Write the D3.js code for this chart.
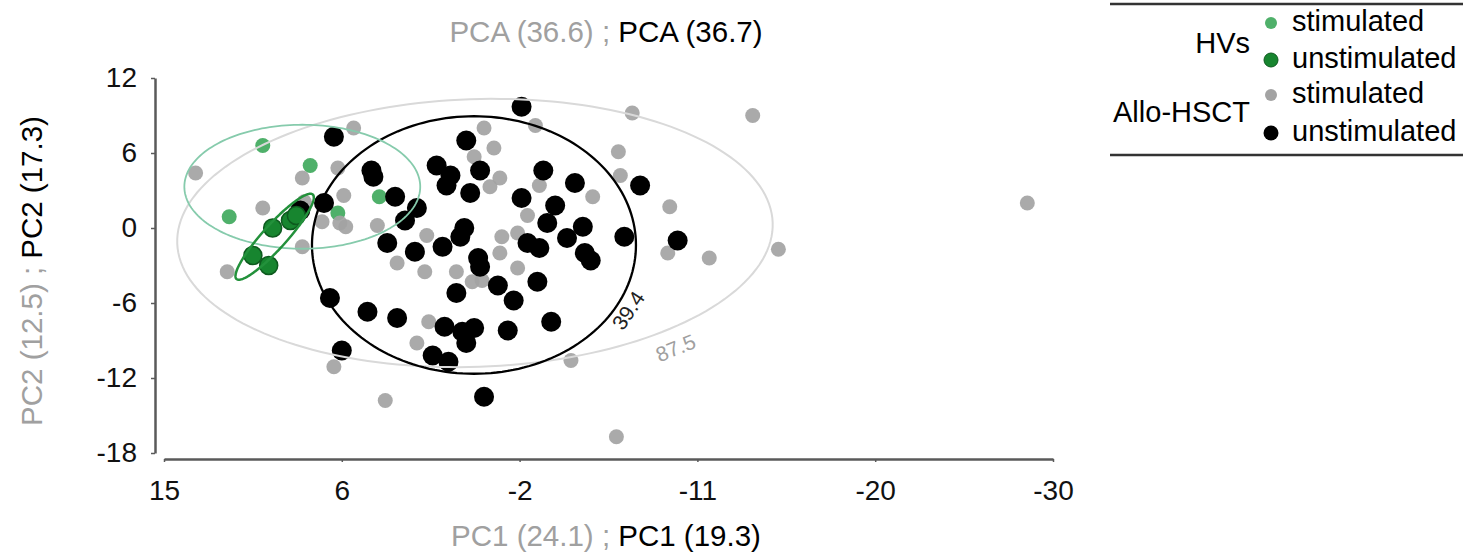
<!DOCTYPE html>
<html>
<head>
<meta charset="utf-8">
<script src="https://cdn.jsdelivr.net/npm/d3@7"></script>
<style>
  body { margin: 0; background: #fff; }
  svg { font-family: "Liberation Sans", Arial, sans-serif; }
</style>
</head>
<body>
<div id="chart"></div>
<script>
// HVs, stimulated
const hvStim = [[10.0, 6.6], [7.6, 5.0], [11.7, 0.9], [4.1, 2.5], [6.2, 1.2]];
// HVs, unstimulated
const hvUnstim = [[10.5, -2.2], [9.7, -3.0], [9.5, 0.0], [8.6, 0.6], [8.3, 1.0]];
// Allo-HSCT, stimulated
const alloStim = [
  [13.4, 4.4], [10.0, 1.6], [8.0, 4.0], [6.2, 4.8], [5.4, 8.0], [5.9, 2.6], [7.0, 0.5],
  [5.8, 0.1], [8.0, -1.5], [11.8, -3.5], [4.2, 0.2], [3.2, -2.8], [1.8, -3.5], [1.7, -0.6],
  [-1.2, 8.0], [-1.7, 6.4], [-0.7, 5.7], [-3.8, 8.2], [-8.7, 9.2], [-8.0, 6.1], [-8.1, 4.2],
  [-6.7, 2.5], [-2.0, 4.0], [-1.5, 3.3], [-4.0, 3.4], [-3.4, 1.0], [-2.9, -0.4], [-2.1, -0.7],
  [-2.0, -2.0], [0.2, -3.5], [-0.6, -4.3], [-1.1, -4.2], [-2.9, -3.2], [-10.6, 1.7],
  [-10.5, -2.0], [-12.6, -2.4], [-14.8, 9.0], [-16.1, -1.7], [-28.7, 2.0], [1.6, -7.5],
  [2.2, -9.2], [6.4, -11.1], [-5.6, -10.6], [3.8, -13.8], [-7.9, -16.7], [7.9, 2.1], [6.1, 0.4]
];
// Allo-HSCT, unstimulated
const alloUnstim = [
  [-3.1, 9.7], [6.4, 7.3], [-0.3, 7.0], [4.5, 4.6], [4.4, 4.1], [1.2, 5.0], [0.5, 4.2],
  [0.7, 3.4], [-1.0, 4.6], [-0.5, 2.8], [-4.2, 4.6], [-5.8, 3.6], [-9.1, 3.4], [3.3, 2.5],
  [2.2, 1.6], [2.8, 0.6], [6.9, 2.0], [-3.1, 2.4], [-4.8, 1.8], [-4.4, 0.4], [-0.2, 0.0],
  [0.0, -0.7], [-6.2, 0.1], [-5.4, -0.8], [-3.4, -1.2], [-4.0, -1.6], [-6.3, -2.0],
  [-6.6, -2.6], [-8.3, -0.7], [3.7, -1.2], [2.3, -1.9], [0.9, -1.5], [-0.9, -2.4],
  [-1.0, -3.1], [-11.0, -1.0], [6.6, -5.6], [4.7, -6.7], [3.2, -7.2], [0.2, -5.2],
  [-1.9, -4.6], [-2.7, -5.8], [-3.9, -4.3], [0.8, -7.9], [-0.1, -8.3], [-0.7, -8.0],
  [-0.3, -9.2], [1.4, -10.2], [0.6, -10.7], [-2.4, -8.2], [-4.6, -7.5], [6.0, -9.8],
  [-1.2, -13.5], [8.1, 1.4]
];

// confidence ellipses: centre and two semi-axis vectors, in data units
const ellipseStim = { c: [-0.74, -0.4], a: [-15.07, 0.83], b: [0.24, 10.7] };
const ellipseUnstim = { c: [-0.69, -1.36], a: [-8.2, 0], b: [0, 10.3] };
const ellipseHvStim = { c: [8.0, 3.3], a: [-5.97, 0], b: [0, 4.96] };
const ellipseHvUnstim = { c: [9.4, -0.7], a: [-1.93, 3.38], b: [-0.45, -0.64] };
const ellipseLabels = [{ text: '87.5', at: [-10.9, -9.6] }, { text: '39.4', at: [-8.5, -6.6] }];

const xTickValues = [15, 6, -3, -12, -21, -30];
const xTickLabels = ['15', '6', '-2', '-11', '-20', '-30'];
const yTickValues = [12, 6, 0, -6, -12, -18];

const legendGroups = ['HVs', 'Allo-HSCT'];
const legendItems = ['stimulated', 'unstimulated', 'stimulated', 'unstimulated'];

const width = 1463;
const height = 555;
const gray = '#a0a0a0';

const svg = d3.select('#chart').append('svg')
  .attr('width', width)
  .attr('height', height);

const x = d3.scaleLinear().domain([15, -30]).range([164, 1053]);
const y = d3.scaleLinear().domain([-18, 12]).range([453, 78]);

// axes
const yAxis = d3.axisLeft(y).tickValues(yTickValues).tickFormat(d => String(d))
  .tickSize(4).tickSizeOuter(0).tickPadding(14);
const gy = svg.append('g').attr('transform', 'translate(155,0)').call(yAxis);

const xAxis = d3.axisBottom(x).tickValues(xTickValues)
  .tickFormat((d, i) => xTickLabels[i]).tickSize(3).tickSizeOuter(0).tickPadding(18);
const gx = svg.append('g').attr('transform', 'translate(0,459)').call(xAxis);

[gx, gy].forEach(g => {
  g.select('.domain').attr('stroke', '#5a5a5a').attr('stroke-width', 2.5);
  g.selectAll('.tick line').attr('stroke', '#5a5a5a').attr('stroke-width', 1.5);
  g.selectAll('.tick text').attr('font-size', 28).attr('fill', '#111');
});

// points
const drawPoints = (data, r, fill, stroke, opacity) => {
  svg.append('g').selectAll('circle').data(data).enter()
    .append('circle')
    .attr('cx', d => x(d[0]))
    .attr('cy', d => y(d[1]))
    .attr('r', r)
    .attr('fill', fill)
    .attr('fill-opacity', opacity)
    .attr('stroke', stroke || 'none')
    .attr('stroke-width', stroke ? 1.5 : 0);
};
drawPoints(hvStim, 7.5, '#4fb06a', null, 1);
drawPoints(alloStim, 7.5, '#a3a3a3', null, 0.92);
drawPoints(alloUnstim, 10, '#000', null, 1);
drawPoints(hvUnstim, 9, '#17852f', '#0d5a1e', 1);

// ellipses
const ellipseLine = d3.line().x(d => x(d[0])).y(d => y(d[1])).curve(d3.curveLinearClosed);
const ellipsePoints = e => d3.range(0, 2 * Math.PI, Math.PI / 90).map(t => [
  e.c[0] + e.a[0] * Math.cos(t) + e.b[0] * Math.sin(t),
  e.c[1] + e.a[1] * Math.cos(t) + e.b[1] * Math.sin(t)
]);
const drawEllipse = (e, color, w) => {
  svg.append('path')
    .attr('d', ellipseLine(ellipsePoints(e)))
    .attr('fill', 'none')
    .attr('stroke', color)
    .attr('stroke-width', w);
};
drawEllipse(ellipseStim, '#d9d9d9', 2);
drawEllipse(ellipseUnstim, '#000', 2.3);
drawEllipse(ellipseHvStim, '#86cbac', 1.8);
drawEllipse(ellipseHvUnstim, '#23913b', 2.5);

svg.append('g').selectAll('text').data(ellipseLabels).enter()
  .append('text')
  .attr('transform', (d, i) => `translate(${x(d.at[0])},${y(d.at[1])}) rotate(${i === 0 ? -22 : -56})`)
  .attr('text-anchor', 'middle')
  .attr('dy', '0.35em')
  .attr('font-size', 21)
  .attr('fill', (d, i) => i === 0 ? gray : '#222')
  .text(d => d.text);

// titles
const twoPart = (sel, first, second) => {
  sel.append('tspan').attr('fill', gray).text(first);
  sel.append('tspan').attr('fill', '#000').text(second);
};
svg.append('text').attr('x', 606).attr('y', 42).attr('text-anchor', 'middle').attr('font-size', 29.5)
  .call(twoPart, 'PCA (36.6) ; ', 'PCA (36.7)');
svg.append('text').attr('x', 606).attr('y', 546).attr('text-anchor', 'middle').attr('font-size', 29.5)
  .call(twoPart, 'PC1 (24.1) ; ', 'PC1 (19.3)');
svg.append('text').attr('transform', 'translate(42,271) rotate(-90)').attr('text-anchor', 'middle')
  .attr('font-size', 29.5)
  .call(twoPart, 'PC2 (12.5) ; ', 'PC2 (17.3)');

// legend
const legend = svg.append('g');
legend.append('line').attr('x1', 1110).attr('x2', width).attr('y1', 4).attr('y2', 4)
  .attr('stroke', '#333').attr('stroke-width', 2.5);
legend.append('line').attr('x1', 1110).attr('x2', width).attr('y1', 155).attr('y2', 155)
  .attr('stroke', '#333').attr('stroke-width', 2.5);
legend.selectAll('.grp').data(legendGroups).enter()
  .append('text')
  .attr('class', 'grp')
  .attr('x', 1250)
  .attr('y', (d, i) => [53, 122][i])
  .attr('text-anchor', 'end')
  .attr('font-size', 29)
  .text(d => d);
const markerFill = ['#4fb06a', '#17852f', '#a3a3a3', '#000'];
const markerR = [6, 7, 6, 7.5];
const rowY = [23, 60, 95, 133];
legend.selectAll('circle').data(legendItems).enter()
  .append('circle')
  .attr('cx', 1271)
  .attr('cy', (d, i) => rowY[i])
  .attr('r', (d, i) => markerR[i])
  .attr('fill', (d, i) => markerFill[i])
  .attr('stroke', (d, i) => i === 1 ? '#0d5a1e' : 'none');
legend.selectAll('.item').data(legendItems).enter()
  .append('text')
  .attr('class', 'item')
  .attr('x', 1292)
  .attr('y', (d, i) => rowY[i] + 8)
  .attr('font-size', 29)
  .text(d => d);
</script>
</body>
</html>
